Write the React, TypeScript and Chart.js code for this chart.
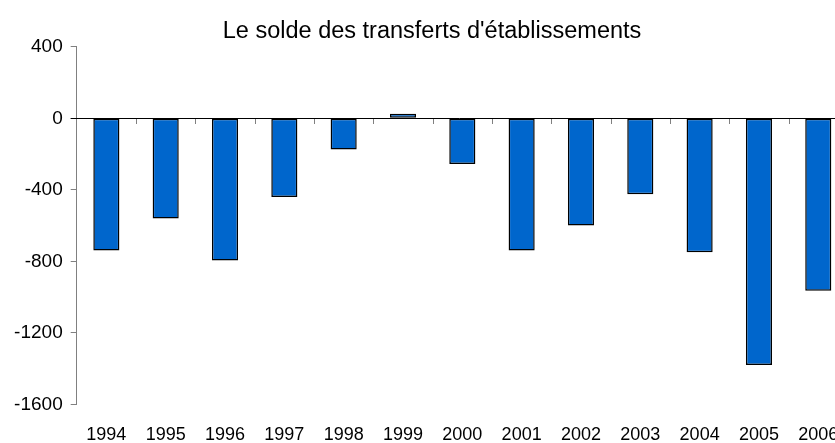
import { useEffect, useRef } from "react";
import { Chart, registerables } from "chart.js";

Chart.register(...registerables);

const chartTitle = "Le solde des transferts d'établissements";
const years = ["1994", "1995", "1996", "1997", "1998", "1999", "2000", "2001", "2002", "2003", "2004", "2005", "2006"];
const solde = [-740, -560, -795, -440, -175, 25, -255, -740, -600, -425, -750, -1380, -965];
const yTicks = [400, 0, -400, -800, -1200, -1600];

const FONT = "'Liberation Sans', Arial, sans-serif";

// zero line and the small tick marks hanging below it, at category boundaries
const zeroLineTicks = {
  id: "zeroLineTicks",
  afterDatasetsDraw(chart: any) {
    const xs = chart.scales.x;
    const ys = chart.scales.y;
    const { ctx } = chart;
    const y0 = Math.round(ys.getPixelForValue(0));
    const n = xs.getLabels().length;
    ctx.save();
    ctx.lineWidth = 1;
    ctx.strokeStyle = "#808080";
    ctx.beginPath();
    for (let i = 1; i <= n; i++) {
      const xb = (xs.getPixelForValue(i - 1) + xs.getPixelForValue(i)) / 2;
      const xx = Math.round(xb) + 0.5;
      ctx.moveTo(xx, y0 + 1);
      ctx.lineTo(xx, y0 + 6);
    }
    ctx.stroke();
    ctx.strokeStyle = "#000000";
    ctx.beginPath();
    ctx.moveTo(chart.chartArea.left - 6, y0 + 0.5);
    ctx.lineTo(chart.chartArea.right, y0 + 0.5);
    ctx.stroke();
    ctx.restore();
  },
};

export default function App() {
  const ref = useRef<HTMLCanvasElement>(null);

  useEffect(() => {
    if (!ref.current) return;
    const chart = new Chart(ref.current, {
      type: "bar",
      data: {
        labels: years,
        datasets: [
          {
            data: solde,
            backgroundColor: "#0066CC",
            borderColor: "#000000",
            borderWidth: 1.5,
            borderSkipped: false,
            barPercentage: 0.44,
            categoryPercentage: 1,
          },
        ],
      },
      options: {
        responsive: false,
        animation: false,
        layout: { padding: { left: 6.1, right: 0, top: 0, bottom: 0.7 } },
        plugins: {
          legend: { display: false },
          tooltip: { enabled: false },
          title: {
            display: true,
            text: chartTitle,
            color: "#000000",
            font: { family: FONT, size: 23.5, weight: "normal" },
            padding: { top: 17.6, bottom: 1.0 },
          },
        },
        scales: {
          x: {
            type: "category",
            position: "bottom",
            offset: true,
            grid: { display: false, drawTicks: false, offset: true },
            border: { display: false },
            ticks: {
              color: "#000000",
              font: { family: FONT, size: 18 },
              padding: 19.7,
              maxRotation: 0,
              autoSkip: false,
            },
          },
          y: {
            type: "linear",
            position: "left",
            min: -1600,
            max: 400,
            afterBuildTicks: (scale: any) => {
              scale.ticks = [...yTicks].sort((a, b) => a - b).map((v) => ({ value: v }));
            },
            ticks: {
              color: "#000000",
              font: { family: FONT, size: 19 },
              padding: 8,
              callback: (v: any) => String(v),
            },
            grid: {
              drawOnChartArea: false,
              drawTicks: true,
              tickLength: 6,
              tickColor: "#808080",
            },
            border: { display: true, color: "#808080", width: 1 },
          },
        },
      } as any,
      plugins: [zeroLineTicks],
    });
    return () => chart.destroy();
  }, []);

  return (
    <div
      style={{
        position: "fixed",
        left: 0,
        top: 0,
        width: 835,
        height: 443,
        overflow: "hidden",
        background: "#ffffff",
      }}
    >
      <canvas ref={ref} width={858} height={466} style={{ width: 858, height: 466, display: "block" }} />
    </div>
  );
}
